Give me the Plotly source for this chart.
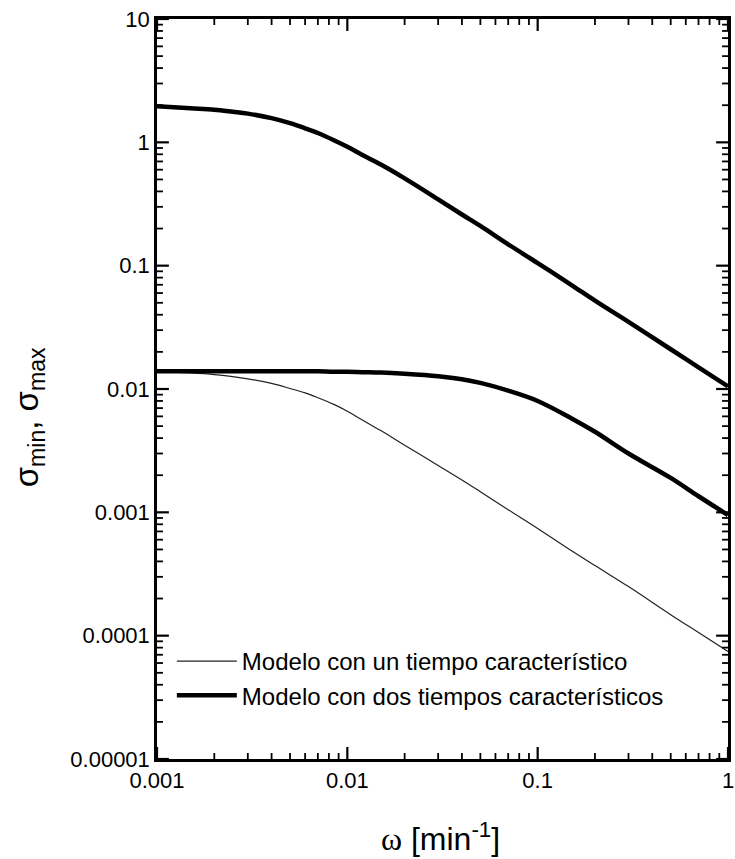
import math
import plotly.graph_objects as go

# Frequency grid [1/min]
omega = [0.001, 0.0015, 0.002, 0.0025, 0.003, 0.004, 0.005, 0.006, 0.007, 0.0085,
         0.01, 0.012, 0.015, 0.02, 0.03, 0.04, 0.05, 0.07, 0.1, 0.15,
         0.2, 0.3, 0.5, 0.7, 1.0]

# Two-time-constant model: upper branch (sigma_max)
sigma_max_two = [1.96, 1.89, 1.84, 1.77, 1.71, 1.57, 1.43, 1.30, 1.19, 1.04,
                 0.92, 0.79, 0.66, 0.51, 0.345, 0.26, 0.21, 0.149, 0.105, 0.070,
                 0.052, 0.035, 0.021, 0.015, 0.0105]

# Two-time-constant model: lower branch (sigma_min)
sigma_min_two = [0.0139, 0.0139, 0.0139, 0.0139, 0.0139, 0.0139, 0.0139, 0.0139, 0.0139, 0.0138,
                 0.0138, 0.0137, 0.0136, 0.0133, 0.0127, 0.0120, 0.0112, 0.0097, 0.0080, 0.0058,
                 0.0045, 0.0030, 0.0019, 0.00135, 0.00095]

# One-time-constant model
sigma_one = [0.0139, 0.0135, 0.0131, 0.0126, 0.0121, 0.0111, 0.0101, 0.0093, 0.0085, 0.0075,
             0.0066, 0.0056, 0.0046, 0.0035, 0.0024, 0.00183, 0.00147, 0.00105, 0.00074, 0.00049,
             0.00037, 0.00025, 0.000148, 0.000106, 0.0000745]

x_tickvals = [0.001, 0.01, 0.1, 1]
x_ticktext = ["0.001", "0.01", "0.1", "1"]
y_tickvals = [1e-5, 1e-4, 1e-3, 1e-2, 1e-1, 1, 10]
y_ticktext = ["0.00001", "0.0001", "0.001", "0.01", "0.1", "1", "10"]

# Minor tick positions (2..9 within each decade)
x_minor = [m * 10.0 ** e for e in range(-3, 0) for m in range(2, 10)]
y_minor = [m * 10.0 ** e for e in range(-5, 1) for m in range(2, 10)]

X_RANGE = [-3, 0]
Y_RANGE = [-5, 1]
PLOT_W, PLOT_H = 577, 740
FONT = "Liberation Sans, Arial, Helvetica, sans-serif"
TICK_COLOR = "black"

fig = go.Figure()
fig.add_trace(go.Scatter(
    x=omega, y=sigma_one, mode="lines", line=dict(color="#222222", width=1.2, shape="spline"),
    name="Modelo con un tiempo característico", legendgroup="a"))
fig.add_trace(go.Scatter(
    x=omega, y=sigma_max_two, mode="lines", line=dict(color="black", width=4.5, shape="spline"),
    name="Modelo con dos tiempos característicos", legendgroup="b"))
fig.add_trace(go.Scatter(
    x=omega, y=sigma_min_two, mode="lines", line=dict(color="black", width=4.5, shape="spline"),
    name="Modelo con dos tiempos característicos", legendgroup="b", showlegend=False))

axis_common = dict(
    type="log", showgrid=False, zeroline=False,
    showline=True, linecolor="black", linewidth=2.5, mirror=True,
    ticks="", tickfont=dict(family=FONT, size=22, color="black"),
    ticklabeloverflow="allow",
)
fig.update_xaxes(range=X_RANGE, tickmode="array", tickvals=x_tickvals, ticktext=x_ticktext,
                 **axis_common)
fig.update_yaxes(range=Y_RANGE, tickmode="array", tickvals=y_tickvals, ticktext=y_ticktext,
                 **axis_common)


def frac(v, rng):
    return (math.log10(v) - rng[0]) / (rng[1] - rng[0])


# Inward tick marks on all four sides (major 12 px, minor 6 px)
def add_ticks(values, length, width):
    for v in values[0]:
        f = frac(v, X_RANGE)
        for y0, y1 in ((0, length / PLOT_H), (1, 1 - length / PLOT_H)):
            fig.add_shape(type="line", xref="x domain", yref="y domain", layer="above",
                          x0=f, x1=f, y0=y0, y1=y1, line=dict(color=TICK_COLOR, width=width))
    for v in values[1]:
        f = frac(v, Y_RANGE)
        for x0, x1 in ((0, length / PLOT_W), (1, 1 - length / PLOT_W)):
            fig.add_shape(type="line", xref="x domain", yref="y domain", layer="above",
                          x0=x0, x1=x1, y0=f, y1=f, line=dict(color=TICK_COLOR, width=width))


add_ticks((x_tickvals, y_tickvals), 12, 2.2)
add_ticks((x_minor, y_minor), 6, 1.8)

fig.add_annotation(
    text="σ<sub>min</sub>, σ<sub>max</sub>", textangle=-90, showarrow=False,
    xref="paper", yref="paper", x=(28 - 157) / 577, y=(759 - 417) / 740,
    xanchor="center", yanchor="middle",
    font=dict(family=FONT, size=33, color="black"))
fig.add_annotation(
    text="<span style='font-family:Liberation Serif, Times New Roman, serif'>ω</span> [min<sup>-1</sup>]",
    showarrow=False, xref="paper", yref="paper",
    x=(443 - 157) / 577, y=(759 - 837) / 740, xanchor="center", yanchor="middle",
    font=dict(family=FONT, size=32, color="black"))

fig.update_layout(
    width=735, height=859,
    margin=dict(l=157, r=1, t=19, b=100),
    paper_bgcolor="white", plot_bgcolor="white",
    legend=dict(x=(172 - 157) / 577, y=(759 - 639) / 740, xanchor="left", yanchor="top",
                font=dict(family=FONT, size=24, color="black"), bgcolor="rgba(0,0,0,0)",
                itemwidth=60, tracegroupgap=0),
    showlegend=True,
)

fig.write_html("out.html")
